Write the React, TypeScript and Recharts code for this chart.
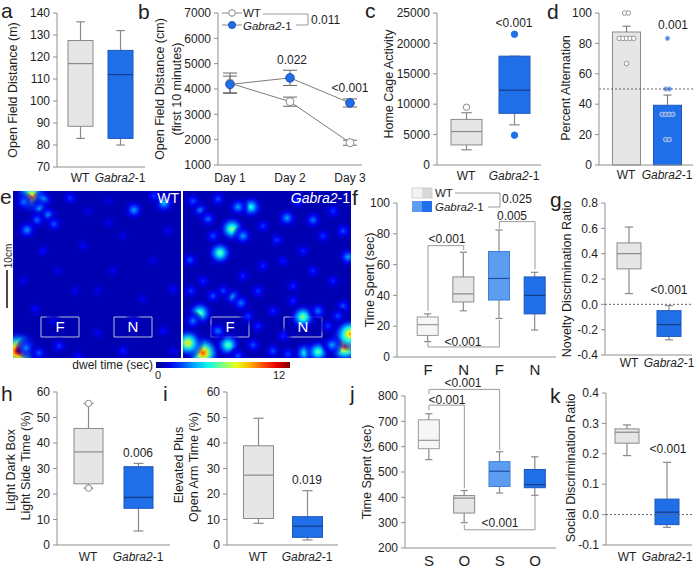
import React from 'react';
import {
  ComposedChart, Bar, XAxis, YAxis, ReferenceLine, ReferenceArea,
  LineChart, Line, ErrorBar, ScatterChart, Scatter,
} from 'recharts';

const FONT = '"Liberation Sans", Arial, Helvetica, sans-serif';
const AXIS = '#8f8f8f';
const INK = '#1e1e1e';
const WT_FILL = '#e6e6e6';
const WT_PALE = '#f6f6f6';
const KO_FILL = '#1f6fe9';
const KO_PALE = '#5c9df2';
const KO_EDGE = '#1d56bb';
const KO_MED = '#123c85';
const WHISK = '#8a8a8a';
const BRK = '#9a9a9a';

// ---------------- DATA ----------------
const genotypes = ['WT', 'Gabra2-1'];
// five-number summaries: [min, q1, median, q3, max]
const openFieldBox = [[83, 88.5, 117, 127.5, 136], [80, 83, 112, 123, 132]];
const days = ['Day 1', 'Day 2', 'Day 3'];
const dayWT = [4230, 3500, 1880];
const dayWTsem = [400, 180, 100];
const dayKO = [4180, 4440, 3450];
const dayKOsem = [330, 300, 160];
const homeCageBox = [[2500, 3300, 5500, 7500, 8600], [6600, 8500, 12300, 17900, 17900]];
const homeCageOut = [[9500], [21500, 4900]];
const alternationMean = [87.5, 39.3];
const alternationSem = [3.8, 6.7];
const alternationPts = [
  [[100, 2], [83.3, 5], [66.7, 1]],
  [[83.3, 1], [50, 2], [33.3, 4], [16.7, 2]],
];
const objectCats = ['F', 'N', 'F', 'N'];
const objectBox = [[10, 14, 21, 26, 28], [30, 35.7, 41, 52, 68], [25, 37, 51, 68.5, 82.5], [17.5, 28, 40, 52, 55]];
const novelRatioBox = [[0.085, 0.28, 0.4, 0.485, 0.61], [-0.28, -0.253, -0.16, -0.05, -0.01]];
const lightDarkBox = [[22.3, 24, 36.5, 45.7, 55.5], [5.5, 14.4, 18.7, 30.7, 32]];
const lightDarkOut = [[55.5, 22.3], []];
const plusMazeBox = [[8.5, 10.4, 27.4, 38.9, 49.7], [2, 3, 7.4, 11.1, 21.3]];
const socialCats = ['S', 'O', 'S', 'O'];
const socialBox = [[549, 592, 625, 706, 730], [300, 338, 397, 407, 427], [417, 443, 503, 541, 580], [408, 438, 450, 510, 560]];
const socialRatioBox = [[0.194, 0.235, 0.271, 0.282, 0.295], [-0.042, -0.033, 0.008, 0.051, 0.172]];
// heat-map hot spots: [x, y, dwell time (sec)]
const wtSpots = [
  [19, 6, 9.5], [11, 11, 3], [30, 9, 3.8], [27, 18, 3.6], [35, 24, 3.2], [24, 29, 2.8], [41, 33, 2.6],
  [14, 39, 3.4], [57, 7, 2.2], [121, 19, 3.6], [151, 12, 4], [141, 5, 2.2], [30, 60, 1.7], [70, 55, 1.5],
  [96, 32, 1.4], [100, 80, 1.4], [62, 100, 1.4], [130, 108, 1.4], [22, 118, 1.6], [84, 142, 1.5],
  [150, 140, 1.7], [160, 98, 1.6], [5, 160, 12], [13, 157, 3.2], [26, 162, 2.6], [46, 155, 2.2],
  [110, 160, 1.9], [140, 70, 1.4], [45, 80, 1.3], [75, 20, 1.4], [110, 45, 1.3], [155, 40, 1.5],
  [85, 100, 1.3], [120, 130, 1.4], [40, 130, 1.4], [160, 160, 1.5], [65, 165, 1.6], [95, 10, 1.3], [10, 90, 1.4],
];
const koSpots = [
  [49, 38, 6.5], [37, 62, 6], [68, 16, 5], [55, 16, 3.5], [104, 27, 3.5], [130, 29, 3], [17, 19, 3],
  [10, 10, 2.5], [25, 28, 2.8], [35, 8, 2.5], [60, 45, 3.5], [165, 66, 3.5], [7, 69, 2.5], [94, 49, 2.2],
  [120, 60, 2], [80, 75, 2], [140, 45, 2.2], [20, 90, 2], [60, 85, 2], [110, 95, 2], [150, 90, 2],
  [50, 106, 3.5], [58, 112, 3], [17, 122, 6], [10, 130, 3], [120, 126, 6.5], [135, 120, 3], [90, 120, 2],
  [160, 115, 2.5], [20, 162, 10], [5, 152, 8], [45, 154, 6], [122, 162, 5], [135, 161, 6], [165, 149, 11],
  [162, 155, 10], [167, 143, 9], [149, 154, 3.5], [70, 154, 2.5], [90, 160, 2.5], [35, 140, 3],
  [75, 135, 2], [145, 135, 2.2], [100, 145, 2], [30, 45, 2.4], [80, 35, 2.2], [115, 10, 2.4], [150, 20, 2.2],
  [160, 40, 2.5], [40, 100, 2.3], [75, 100, 2.2], [130, 80, 2], [100, 70, 1.8], [155, 125, 2.4],
  [30, 105, 2.5], [65, 125, 2.2], [110, 110, 2], [8, 100, 2.2], [55, 165, 2.5], [105, 163, 2.3],
];

// ---------------- STYLES ----------------
const twoStyles = [
  { fill: WT_FILL, edge: '#8a8a8a', med: '#8a8a8a', whisk: WHISK, oFill: '#fff', oEdge: '#8a8a8a' },
  { fill: KO_FILL, edge: KO_EDGE, med: KO_MED, whisk: WHISK, oFill: KO_FILL, oEdge: KO_FILL },
];
const fourStyles = [
  { fill: WT_PALE, edge: '#9a9a9a', med: '#9a9a9a', whisk: WHISK, oFill: '#fff', oEdge: '#8a8a8a' },
  { fill: WT_FILL, edge: '#8a8a8a', med: '#8a8a8a', whisk: WHISK, oFill: '#fff', oEdge: '#8a8a8a' },
  { fill: KO_PALE, edge: '#3f7fd8', med: '#1d4f9e', whisk: WHISK, oFill: KO_PALE, oEdge: KO_PALE },
  { fill: KO_FILL, edge: KO_EDGE, med: KO_MED, whisk: WHISK, oFill: KO_FILL, oEdge: KO_FILL },
];
const altStyles = [
  { fill: WT_FILL, edge: '#8a8a8a', dot: '#fff', dotEdge: '#8a8a8a' },
  { fill: KO_FILL, edge: KO_EDGE, dot: '#4f86e4', dotEdge: '#b4cbf2' },
];

const toRows = (cats: string[], boxes: number[][], outs?: number[][]) =>
  cats.map((c, i) => ({
    key: `${c}${i}`, min: boxes[i][0], q1: boxes[i][1], med: boxes[i][2], q3: boxes[i][3], max: boxes[i][4],
    out: outs ? outs[i] : [],
  }));

const rowsA = toRows(genotypes, openFieldBox);
const rowsC = toRows(genotypes, homeCageBox, homeCageOut);
const rowsD = genotypes.map((g, i) => ({ key: `${g}${i}`, mean: alternationMean[i], sem: alternationSem[i], pts: alternationPts[i] }));
const rowsF = toRows(objectCats, objectBox);
const rowsG = toRows(genotypes, novelRatioBox);
const rowsH = toRows(genotypes, lightDarkBox, lightDarkOut);
const rowsI = toRows(genotypes, plusMazeBox);
const rowsJ = toRows(socialCats, socialBox);
const rowsK = toRows(genotypes, socialRatioBox);
const rowsB = days.map((d, i) => ({ day: d, wt: dayWT[i], wtErr: dayWTsem[i], ko: dayKO[i], koErr: dayKOsem[i] }));
const spotRows = (arr: number[][]) => arr.map(([x, y, v]) => ({ x, y, v }));

// ---------------- LAYOUTS ----------------
type Layout = {
  axisX: number; top: number; bottom: number; right: number; c0: number; c1: number; bar: number;
  domain: [number, number]; ticks: number[]; dec?: number; catDy: number; catSize: number;
};
const LA: Layout = { axisX: 57, top: 13, bottom: 167, right: 145, c0: 80, c1: 120, bar: 25, domain: [70, 140], ticks: [70, 80, 90, 100, 110, 120, 130, 140], catDy: 11, catSize: 12 };
const LC: Layout = { axisX: 437, top: 13, bottom: 165, right: 541, c0: 466, c1: 514, bar: 31, domain: [0, 25000], ticks: [0, 5000, 10000, 15000, 20000, 25000], catDy: 11, catSize: 12 };
const LD: Layout = { axisX: 599, top: 13, bottom: 165, right: 693, c0: 626, c1: 667, bar: 28, domain: [0, 100], ticks: [0, 20, 40, 60, 80, 100], catDy: 10, catSize: 12 };
const LF: Layout = { axisX: 397, top: 203, bottom: 357, right: 556, c0: 428, c1: 535, bar: 21, domain: [0, 100], ticks: [0, 20, 40, 60, 80, 100], catDy: 12, catSize: 15 };
const LG: Layout = { axisX: 605, top: 203, bottom: 355, right: 692, c0: 629, c1: 669, bar: 24, domain: [-0.4, 0.8], ticks: [-0.4, -0.2, 0, 0.2, 0.4, 0.6, 0.8], dec: 1, catDy: 8, catSize: 12 };
const LH: Layout = { axisX: 57, top: 392, bottom: 545, right: 170, c0: 88, c1: 138, bar: 29, domain: [0, 60], ticks: [0, 10, 20, 30, 40, 50, 60], catDy: 12, catSize: 12 };
const LI: Layout = { axisX: 227, top: 392, bottom: 545, right: 338, c0: 258, c1: 307, bar: 30, domain: [0, 60], ticks: [0, 10, 20, 30, 40, 50, 60], catDy: 12, catSize: 12 };
const LJ: Layout = { axisX: 405, top: 396, bottom: 548, right: 556, c0: 429, c1: 535, bar: 21, domain: [200, 800], ticks: [200, 300, 400, 500, 600, 700, 800], catDy: 12, catSize: 15 };
const LK: Layout = { axisX: 606, top: 393, bottom: 545, right: 692, c0: 627, c1: 667, bar: 24, domain: [-0.1, 0.4], ticks: [-0.1, 0, 0.1, 0.2, 0.3, 0.4], dec: 1, catDy: 12, catSize: 12 };

// ---------------- HELPERS ----------------
const geneText = (s: string) =>
  s.startsWith('Gabra')
    ? [<tspan key="a" fontStyle="italic">Gabra2</tspan>, <tspan key="b">-1</tspan>]
    : s;

const CatTick = (props: any) => {
  const { x, y, payload, off, fs, strip } = props;
  const raw = String(payload.value);
  const label = strip ? raw.slice(0, -1) : raw;
  return (
    <text x={x} y={y + off} textAnchor="middle" dominantBaseline="central" fontSize={fs} fontFamily={FONT} fill={INK}>
      {geneText(label)}
    </text>
  );
};

function makeBoxShape(styles: any[]) {
  return (props: any) => {
    const { x, y, width, height, index, payload } = props;
    if (!payload) return null;
    const st = styles[index] || styles[0];
    const top = Math.min(y, y + height);
    const h = Math.abs(height);
    const span = payload.max - payload.min;
    const py = (v: number) => top + (h * (payload.max - v)) / span;
    const cx = x + width / 2;
    const cw = width * 0.17;
    return (
      <g>
        <line x1={cx} x2={cx} y1={py(payload.max)} y2={py(payload.min)} stroke={st.whisk} strokeWidth={1.2} />
        <line x1={cx - cw} x2={cx + cw} y1={py(payload.max)} y2={py(payload.max)} stroke={st.whisk} strokeWidth={1.2} />
        <line x1={cx - cw} x2={cx + cw} y1={py(payload.min)} y2={py(payload.min)} stroke={st.whisk} strokeWidth={1.2} />
        <rect x={x} y={py(payload.q3)} width={width} height={py(payload.q1) - py(payload.q3)} fill={st.fill} stroke={st.edge} strokeWidth={1} />
        <line x1={x} x2={x + width} y1={py(payload.med)} y2={py(payload.med)} stroke={st.med} strokeWidth={1.2} />
        {payload.out.map((v: number, k: number) => (
          <circle key={k} cx={cx} cy={py(v)} r={3.2} fill={st.oFill} stroke={st.oEdge} strokeWidth={1} />
        ))}
      </g>
    );
  };
}

const AltBar = (props: any) => {
  const { x, y, width, height, index, payload } = props;
  if (!payload) return null;
  const st = altStyles[index] || altStyles[0];
  const base = y + height;
  const k = height / payload.mean;
  const py = (v: number) => base - v * k;
  const cx = x + width / 2;
  const et = py(payload.mean + payload.sem);
  const dots: any[] = [];
  payload.pts.forEach(([v, n]: number[], r: number) => {
    for (let j = 0; j < n; j++) {
      dots.push(
        <circle key={`${r}-${j}`} cx={cx + (j - (n - 1) / 2) * 3.6} cy={py(v)} r={2.3} fill={st.dot} stroke={st.dotEdge} strokeWidth={0.9} />
      );
    }
  });
  return (
    <g>
      <rect x={x} y={y} width={width} height={height} fill={st.fill} stroke={st.edge} strokeWidth={1} />
      <line x1={cx} x2={cx} y1={y} y2={et} stroke="#777" strokeWidth={1.1} />
      <line x1={cx - 4} x2={cx + 4} y1={et} y2={et} stroke="#777" strokeWidth={1.1} />
      {dots}
    </g>
  );
};

const YW = 46, MT = 14, XH = 30, MR = 14;

function Frame({ L, rows, children }: any) {
  const n = rows.length;
  const s = (L.c1 - L.c0) / (n - 1);
  const pl = L.c0 - s / 2 - L.axisX;
  const pr = L.right - (L.c1 + s / 2);
  return (
    <div style={{ position: 'absolute', left: L.axisX - YW, top: L.top - MT }}>
      <ComposedChart
        width={YW + L.right - L.axisX + MR}
        height={MT + L.bottom - L.top + XH}
        data={rows}
        margin={{ top: MT, right: MR, bottom: 0, left: 0 }}
      >
        <XAxis
          dataKey="key" type="category" padding={{ left: pl, right: pr }} height={XH}
          axisLine={{ stroke: AXIS }} tickLine={false} tickSize={0} tickMargin={0} interval={0}
          tick={(p: any) => <CatTick {...p} off={L.catDy} fs={L.catSize} strip />}
        />
        <YAxis
          type="number" domain={L.domain} ticks={L.ticks} width={YW} interval={0}
          axisLine={{ stroke: AXIS }} tickLine={{ stroke: AXIS }} tickSize={4} tickMargin={3}
          tick={{ fontSize: 12, fill: INK, fontFamily: FONT }}
          tickFormatter={(v: number) => (L.dec != null ? v.toFixed(L.dec) : String(v))}
        />
        {children}
      </ComposedChart>
    </div>
  );
}

function BoxPanel({ L, rows, styles, refY, extra }: any) {
  return (
    <Frame L={L} rows={rows}>
      {refY != null && <ReferenceLine y={refY} stroke="#666" strokeDasharray="2 2" />}
      <Bar dataKey={(d: any) => [d.min, d.max]} barSize={L.bar} shape={makeBoxShape(styles)} isAnimationActive={false} />
      {extra}
    </Frame>
  );
}

const seg = (k: string, x1: string, y1: number, x2: string, y2: number) => (
  <ReferenceLine key={k} segment={[{ x: x1, y: y1 }, { x: x2, y: y2 }]} stroke={BRK} strokeWidth={1} ifOverflow="visible" />
);

const bracketsF = [
  seg('f1', 'F0', 72.3, 'F0', 30), seg('f2', 'F0', 72.3, 'N1', 72.3), seg('f3', 'N1', 72.3, 'N1', 69.5),
  seg('f4', 'F2', 87.9, 'F2', 83.5), seg('f5', 'F2', 87.9, 'N3', 87.9), seg('f6', 'N3', 87.9, 'N3', 57),
  seg('f7', 'F0', 9.5, 'F0', 6.5), seg('f8', 'F0', 6.5, 'F2', 6.5), seg('f9', 'F2', 6.5, 'F2', 24),
];
const bracketsJ = [
  seg('j1', 'S0', 826, 'S0', 808), seg('j2', 'S0', 826, 'S2', 826), seg('j3', 'S2', 826, 'S2', 587),
  seg('j4', 'S0', 764, 'S0', 744), seg('j5', 'S0', 764, 'O1', 764), seg('j6', 'O1', 764, 'O1', 436),
  seg('j7', 'O1', 292, 'O1', 272), seg('j8', 'O1', 272, 'O3', 272), seg('j9', 'O3', 272, 'O3', 405),
];

function jet(t: number) {
  const c = (v: number) => Math.round(255 * Math.max(0, Math.min(1, v)));
  return `rgb(${c(1.5 - Math.abs(4 * t - 3))},${c(1.5 - Math.abs(4 * t - 2))},${c(1.5 - Math.abs(4 * t - 1))})`;
}
const TB = 0.05;
const HEAT_BG = jet(TB);

const Blob = (props: any) => {
  const { cx, cy, payload, mapId } = props;
  if (!payload || cx == null) return null;
  const t = payload.v / 12;
  const r = 7 + payload.v * 1.2;
  const id = `${mapId}-${payload.x}-${payload.y}`;
  const fs = [0, 0.12, 0.25, 0.4, 0.55, 0.7, 0.85, 1];
  return (
    <g>
      <defs>
        <radialGradient id={id}>
          {fs.map((f) => (
            <stop key={f} offset={f} stopColor={jet(TB + (t - TB) * Math.pow(1 - f, 1.5))} stopOpacity={f >= 1 ? 0 : 1 - f * f * 0.8} />
          ))}
        </radialGradient>
      </defs>
      <circle cx={cx} cy={cy} r={r} fill={`url(#${id})`} />
    </g>
  );
};

const MAPW = 168, MAPH = 167;
function HeatMap({ left, spots, mapId }: any) {
  const lab = (v: string) => ({ value: v, position: 'center', fill: '#fff', fontSize: 15, fontFamily: FONT });
  return (
    <div style={{ position: 'absolute', left, top: 191, width: MAPW, height: MAPH, background: HEAT_BG }}>
      <ScatterChart width={MAPW} height={MAPH} margin={{ top: 0, right: 0, bottom: 0, left: 0 }}>
        <XAxis type="number" dataKey="x" domain={[0, MAPW]} hide />
        <YAxis type="number" dataKey="y" domain={[0, MAPH]} reversed hide />
        <Scatter data={spotRows(spots)} shape={(p: any) => <Blob {...p} mapId={mapId} />} isAnimationActive={false} />
        <ReferenceArea x1={28} x2={66} y1={126} y2={146} stroke="#b8bcd8" strokeWidth={1} fillOpacity={0} label={lab('F') as any} />
        <ReferenceArea x1={101} x2={139} y1={126} y2={146} stroke="#b8bcd8" strokeWidth={1} fillOpacity={0} label={lab('N') as any} />
      </ScatterChart>
    </div>
  );
}

function DayPanel() {
  const axisX = 218, top = 13, bottom = 165, right = 362;
  return (
    <div style={{ position: 'absolute', left: axisX - YW, top: top - MT }}>
      <LineChart width={YW + right - axisX + MR} height={MT + bottom - top + XH} data={rowsB} margin={{ top: MT, right: MR, bottom: 0, left: 0 }}>
        <XAxis
          dataKey="day" padding={{ left: 12, right: 12 }} height={XH} axisLine={{ stroke: AXIS }}
          tickLine={false} tickSize={0} tickMargin={0} interval={0}
          tick={(p: any) => <CatTick {...p} off={13} fs={12} strip={false} />}
        />
        <YAxis
          type="number" domain={[1000, 7000]} ticks={[1000, 2000, 3000, 4000, 5000, 6000, 7000]}
          width={YW} interval={0} axisLine={{ stroke: AXIS }} tickLine={{ stroke: AXIS }} tickSize={4} tickMargin={3}
          tick={{ fontSize: 12, fill: INK, fontFamily: FONT }}
        />
        <Line dataKey="wt" stroke="#7c7c7c" strokeWidth={1} dot={{ r: 4, fill: '#fff', stroke: '#8a8a8a', strokeWidth: 1 }} isAnimationActive={false}>
          <ErrorBar dataKey="wtErr" width={7} stroke="#666" strokeWidth={1} direction="y" />
        </Line>
        <Line dataKey="ko" stroke="#7c7c7c" strokeWidth={1} dot={{ r: 4.3, fill: KO_FILL, stroke: '#1a4fb0', strokeWidth: 1 }} isAnimationActive={false}>
          <ErrorBar dataKey="koErr" width={7} stroke="#666" strokeWidth={1} direction="y" />
        </Line>
      </LineChart>
    </div>
  );
}

const Txt = ({ x, y, children, anchor = 'middle', size = 12, fill = INK, rot }: any) => (
  <text
    x={x} y={y} textAnchor={anchor} dominantBaseline="central" fontSize={size} fontFamily={FONT} fill={fill}
    transform={rot ? `rotate(-90 ${x} ${y})` : undefined}
  >
    {children}
  </text>
);
const Letter = ({ x, y, c }: any) => (
  <text x={x} y={y} fontSize={21} fontFamily={FONT} fill={INK}>{c}</text>
);
const Gene = () => (<><tspan fontStyle="italic">Gabra2</tspan><tspan>-1</tspan></>);

function Overlay() {
  const stops = Array.from({ length: 11 }, (_, i) => i / 10);
  return (
    <svg width={698} height={567} style={{ position: 'absolute', left: 0, top: 0, pointerEvents: 'none' }}>
      <defs>
        <linearGradient id="jetbar" x1="0" x2="1" y1="0" y2="0">
          {stops.map((s) => <stop key={s} offset={s} stopColor={jet(s)} />)}
        </linearGradient>
      </defs>
      {/* panel letters */}
      <Letter x={1} y={18} c="a" />
      <Letter x={138} y={19} c="b" />
      <Letter x={365} y={18} c="c" />
      <Letter x={547} y={19} c="d" />
      <Letter x={0} y={204} c="e" />
      <Letter x={352} y={205} c="f" />
      <Letter x={550} y={207} c="g" />
      <Letter x={1} y={401} c="h" />
      <Letter x={163} y={401} c="i" />
      <Letter x={350} y={401} c="j" />
      <Letter x={550} y={403} c="k" />
      {/* axis titles */}
      <Txt x={13} y={90} rot size={12.5}>Open Field Distance (m)</Txt>
      <Txt x={160} y={89} rot size={12.5}>Open Field Distance (cm)</Txt>
      <Txt x={177} y={89} rot size={12.5}>(first 10 minutes)</Txt>
      <Txt x={389} y={84} rot size={12.5}>Home Cage Activity</Txt>
      <Txt x={566} y={88} rot size={12.5}>Percent Alternation</Txt>
      <Txt x={370} y={280} rot size={12.5}>Time Spent (sec)</Txt>
      <Txt x={567} y={279} rot size={12.5}>Novelty Discrimination Ratio</Txt>
      <Txt x={11} y={470} rot size={12.5}>Light Dark Box</Txt>
      <Txt x={26} y={466} rot size={12.5}>Light Side Time (%)</Txt>
      <Txt x={179} y={465} rot size={12.5}>Elevated Plus</Txt>
      <Txt x={194} y={467} rot size={12.5}>Open Arm Time (%)</Txt>
      <Txt x={367} y={472} rot size={12.5}>Time Spent (sec)</Txt>
      <Txt x={571} y={468} rot size={12.5}>Social Discrimination Ratio</Txt>
      {/* legend b */}
      <line x1={222} x2={242} y1={13} y2={13} stroke="#888" />
      <circle cx={232} cy={13} r={3.3} fill="#fff" stroke="#8a8a8a" />
      <Txt x={243} y={12.5} anchor="start" size={11.5}>WT</Txt>
      <line x1={222} x2={242} y1={25} y2={25} stroke="#888" />
      <circle cx={232} cy={25} r={3.5} fill={KO_FILL} stroke="#1a4fb0" />
      <Txt x={243} y={25.5} anchor="start" size={11.5}><Gene /></Txt>
      <polyline points="263,14 308,14 308,25 296,25" fill="none" stroke={BRK} />
      <Txt x={311} y={20} anchor="start">0.011</Txt>
      <Txt x={292} y={60}>0.022</Txt>
      <Txt x={350} y={88}>&lt;0.001</Txt>
      {/* c, d */}
      <Txt x={514} y={23}>&lt;0.001</Txt>
      <Txt x={673} y={25}>0.001</Txt>
      {/* legend f */}
      <rect x={412} y={188} width={10} height={10} fill="#f3f3f3" />
      <rect x={422} y={188} width={10} height={10} fill="#d9d9d9" />
      <rect x={412} y={188} width={20} height={10} fill="none" stroke="#c8c8c8" strokeWidth={0.8} />
      <rect x={412} y={201} width={10} height={11} fill={KO_PALE} />
      <rect x={422} y={201} width={10} height={11} fill={KO_FILL} />
      <Txt x={435} y={192.5} anchor="start" size={11.5}>WT</Txt>
      <Txt x={435} y={207} anchor="start" size={11.5}><Gene /></Txt>
      <polyline points="455,193 500,193 500,207 488,207" fill="none" stroke={BRK} />
      <Txt x={502} y={199} anchor="start">0.025</Txt>
      <Txt x={447} y={239}>&lt;0.001</Txt>
      <Txt x={512} y={216}>0.005</Txt>
      <Txt x={463} y={342}>&lt;0.001</Txt>
      {/* g h i j k */}
      <Txt x={669} y={290}>&lt;0.001</Txt>
      <Txt x={138} y={453}>0.006</Txt>
      <Txt x={307} y={480}>0.019</Txt>
      <Txt x={463} y={383}>&lt;0.001</Txt>
      <Txt x={447} y={400}>&lt;0.001</Txt>
      <Txt x={500} y={523}>&lt;0.001</Txt>
      <Txt x={668} y={449}>&lt;0.001</Txt>
      {/* heat map labels */}
      <Txt x={179} y={198} anchor="end" size={14} fill="#fff">WT</Txt>
      <Txt x={350} y={198} anchor="end" size={14} fill="#fff"><Gene /></Txt>
      <line x1={7} x2={7} y1={270} y2={308} stroke="#111" strokeWidth={1.5} />
      <Txt x={8} y={256} rot size={10}>10cm</Txt>
      <rect x={156} y={362} width={134} height={6} fill="url(#jetbar)" />
      <Txt x={153} y={365} anchor="end" size={12}>dwel time (sec)</Txt>
      <Txt x={158} y={375} size={11}>0</Txt>
      <Txt x={279} y={375} size={11}>12</Txt>
    </svg>
  );
}

export default function App() {
  return (
    <div style={{ position: 'absolute', left: 0, top: 0, width: 698, height: 567, background: '#fff', overflow: 'hidden' }}>
      <BoxPanel L={LA} rows={rowsA} styles={twoStyles} />
      <DayPanel />
      <BoxPanel L={LC} rows={rowsC} styles={twoStyles} />
      <Frame L={LD} rows={rowsD}>
        <ReferenceLine y={50} stroke="#666" strokeDasharray="2 2" />
        <Bar dataKey="mean" barSize={LD.bar} shape={AltBar} isAnimationActive={false} />
      </Frame>
      <HeatMap left={13} spots={wtSpots} mapId="wt" />
      <HeatMap left={183} spots={koSpots} mapId="ko" />
      <BoxPanel L={LF} rows={rowsF} styles={fourStyles} extra={bracketsF} />
      <BoxPanel L={LG} rows={rowsG} styles={twoStyles} refY={0} />
      <BoxPanel L={LH} rows={rowsH} styles={twoStyles} />
      <BoxPanel L={LI} rows={rowsI} styles={twoStyles} />
      <BoxPanel L={LJ} rows={rowsJ} styles={fourStyles} extra={bracketsJ} />
      <BoxPanel L={LK} rows={rowsK} styles={twoStyles} refY={0} />
      <Overlay />
    </div>
  );
}
